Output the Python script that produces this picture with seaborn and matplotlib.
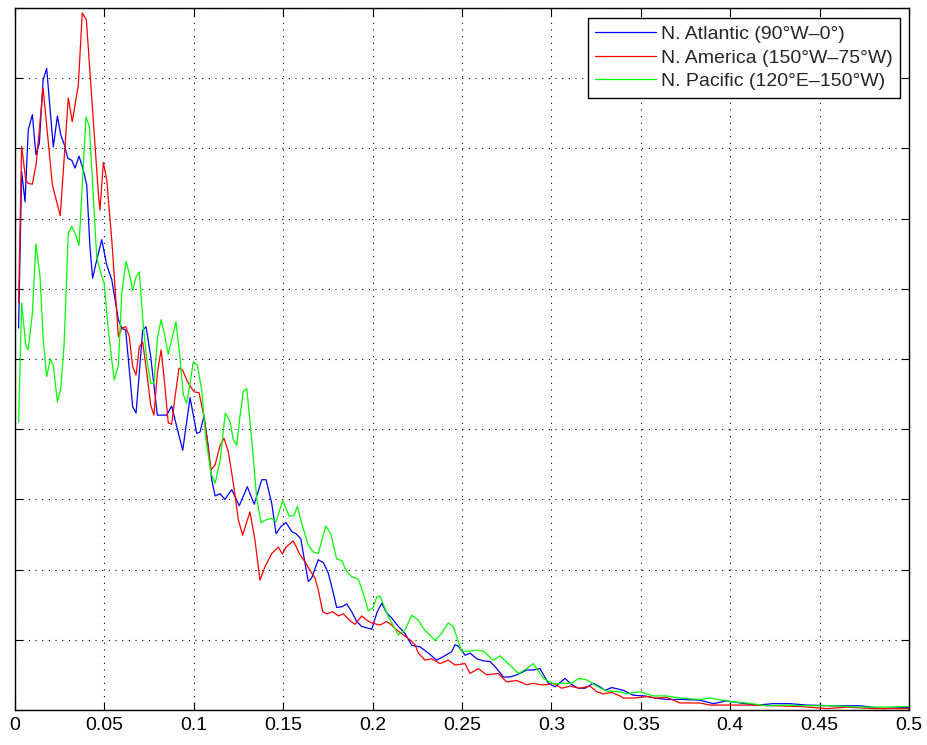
import numpy as np
import pandas as pd
import matplotlib
matplotlib.use('Agg')
import matplotlib.pyplot as plt
import seaborn as sns

# N. Atlantic (blue)
atl_f = [0.002, 0.0037, 0.0056, 0.0074, 0.0097, 0.0117, 0.0136, 0.0157, 0.0177, 0.0214,
         0.0237, 0.0256, 0.0276, 0.0295, 0.0317, 0.0336, 0.0358, 0.0382, 0.0401, 0.0419,
         0.0434, 0.0457, 0.0485, 0.0513, 0.0541, 0.0578, 0.0597, 0.0619, 0.0658, 0.0677,
         0.0714, 0.0733, 0.0759, 0.0796, 0.0848, 0.0876, 0.0904, 0.0938, 0.0979, 0.1016,
         0.1035, 0.1057, 0.1081, 0.11, 0.1119, 0.1147, 0.1174, 0.1212, 0.1254, 0.1299,
         0.1338, 0.138, 0.1404, 0.1436, 0.146, 0.1486, 0.1516, 0.1548, 0.1572, 0.1598,
         0.164, 0.1659, 0.1696, 0.1724, 0.1752, 0.1777, 0.1799, 0.1827, 0.1855, 0.1883,
         0.1911, 0.1939, 0.1967, 0.1995, 0.2026, 0.2051, 0.2079, 0.2107, 0.2144, 0.2181,
         0.2219, 0.2265, 0.2312, 0.2358, 0.2395, 0.2442, 0.2461, 0.2479, 0.2517, 0.2545,
         0.2582, 0.2619, 0.2657, 0.2694, 0.2731, 0.2768, 0.2806, 0.2862, 0.2899, 0.2936,
         0.2983, 0.302, 0.3076, 0.3114, 0.3151, 0.3188, 0.3234, 0.3272, 0.33, 0.3337,
         0.3402, 0.3458, 0.3523, 0.3579, 0.3645, 0.3738, 0.3831, 0.3905, 0.398, 0.4055,
         0.4148, 0.4241, 0.4334, 0.4428, 0.4577, 0.4726, 0.4856, 0.5]
atl_p = [5.44, 7.67, 7.24, 8.26, 8.48, 7.91, 8.07, 8.97, 9.14, 8.02,
         8.46, 8.19, 8.05, 7.86, 7.83, 7.72, 7.89, 7.69, 7.48, 6.6,
         6.15, 6.41, 6.7, 6.34, 6.13, 5.56, 5.44, 5.41, 4.32, 4.23,
         5.41, 5.46, 5.03, 4.2, 4.2, 4.33, 4.04, 3.7, 4.45, 3.94,
         3.96, 4.19, 3.75, 3.28, 3.05, 3.08, 3.0, 3.14, 2.91, 3.18,
         2.93, 3.28, 3.28, 2.94, 2.51, 2.61, 2.67, 2.54, 2.51, 2.44,
         1.83, 1.88, 2.14, 2.1, 1.95, 1.7, 1.46, 1.47, 1.51, 1.40,
         1.26, 1.19, 1.17, 1.15, 1.40, 1.52, 1.38, 1.31, 1.19, 1.09,
         0.92, 0.9, 0.81, 0.71, 0.76, 0.83, 0.93, 0.91, 0.78, 0.81,
         0.73, 0.7, 0.69, 0.59, 0.47, 0.47, 0.5, 0.57, 0.57, 0.59,
         0.38, 0.33, 0.45, 0.36, 0.31, 0.31, 0.38, 0.33, 0.28, 0.32,
         0.28, 0.21, 0.2, 0.17, 0.15, 0.15, 0.14, 0.09, 0.13, 0.1,
         0.07, 0.09, 0.09, 0.07, 0.06, 0.06, 0.02, 0.04]

# N. America (red)
ame_f = [0.002, 0.0037, 0.006, 0.0074, 0.0097, 0.0119, 0.0157, 0.0209, 0.0253, 0.0298,
         0.032, 0.0354, 0.0376, 0.0399, 0.0466, 0.0475, 0.0494, 0.0513, 0.0541, 0.0578,
         0.0597, 0.0619, 0.0639, 0.0658, 0.0677, 0.0695, 0.0714, 0.0737, 0.0759, 0.0777,
         0.0796, 0.0817, 0.0835, 0.0857, 0.0876, 0.0895, 0.0917, 0.0938, 0.096, 0.0983,
         0.1003, 0.1029, 0.1053, 0.1075, 0.1096, 0.1119, 0.1147, 0.1169, 0.1193, 0.1221,
         0.1249, 0.1273, 0.1296, 0.1314, 0.1342, 0.137, 0.1398, 0.1436, 0.1473, 0.1495,
         0.1516, 0.1556, 0.1594, 0.1622, 0.1654, 0.1678, 0.1696, 0.1721, 0.1743, 0.1777,
         0.1808, 0.1836, 0.1874, 0.1902, 0.1939, 0.1967, 0.1995, 0.2041, 0.2079, 0.2097,
         0.2135, 0.2172, 0.2209, 0.2237, 0.2256, 0.2293, 0.233, 0.2377, 0.2423, 0.2461,
         0.2517, 0.2545, 0.2591, 0.2638, 0.2703, 0.275, 0.2806, 0.2862, 0.2899, 0.2936,
         0.2974, 0.3011, 0.3058, 0.3104, 0.316, 0.3216, 0.3253, 0.329, 0.3337, 0.3384,
         0.3402, 0.3458, 0.3533, 0.3589, 0.3645, 0.3719, 0.3831, 0.3887, 0.3999, 0.4111,
         0.4241, 0.439, 0.454, 0.4652, 0.48, 0.5]
ame_p = [5.8, 8.03, 7.55, 7.5, 7.49, 7.79, 8.86, 7.48, 7.04, 8.72,
         8.38, 8.9, 9.93, 9.83, 7.36, 7.12, 7.8, 7.55, 6.7, 5.32,
         5.44, 5.46, 5.32, 4.89, 4.77, 5.17, 5.24, 4.8, 4.34, 4.2,
         4.8, 5.13, 4.7, 4.09, 4.07, 4.46, 4.87, 4.84, 4.7, 4.6,
         4.53, 4.52, 4.23, 3.85, 3.42, 3.49, 3.77, 3.87, 3.68, 3.23,
         2.71, 2.49, 2.68, 2.82, 2.42, 1.85, 2.04, 2.23, 2.32, 2.22,
         2.32, 2.41, 2.21, 2.11, 1.97, 1.88, 1.71, 1.40, 1.37, 1.40,
         1.34, 1.37, 1.27, 1.22, 1.34, 1.28, 1.24, 1.21, 1.26, 1.23,
         1.14, 1.07, 1.0, 0.93, 0.81, 0.71, 0.73, 0.66, 0.71, 0.64,
         0.66, 0.52, 0.59, 0.5, 0.52, 0.4, 0.42, 0.36, 0.38, 0.36,
         0.36, 0.38, 0.31, 0.34, 0.31, 0.34, 0.26, 0.23, 0.25, 0.2,
         0.17, 0.17, 0.19, 0.17, 0.18, 0.1, 0.1, 0.07, 0.07, 0.07,
         0.06, 0.05, 0.02, 0.04, 0.02, 0.02]

# N. Pacific (green)
pac_f = [0.002, 0.0037, 0.006, 0.0074, 0.0097, 0.0117, 0.014, 0.0158, 0.0177, 0.0198,
         0.0214, 0.0237, 0.0256, 0.0274, 0.0298, 0.0317, 0.0336, 0.0358, 0.0397, 0.0416,
         0.0457, 0.0475, 0.0498, 0.0522, 0.0541, 0.0555, 0.0578, 0.0597, 0.0621, 0.0639,
         0.0658, 0.0677, 0.0695, 0.0718, 0.0737, 0.0759, 0.0777, 0.0796, 0.0817, 0.0835,
         0.0857, 0.0876, 0.09, 0.0923, 0.0941, 0.096, 0.0979, 0.0997, 0.102, 0.1044,
         0.1068, 0.1096, 0.1119, 0.1147, 0.1176, 0.1202, 0.1221, 0.124, 0.1258, 0.1277,
         0.1296, 0.1324, 0.1352, 0.1376, 0.1404, 0.1436, 0.146, 0.1497, 0.1534, 0.156,
         0.1579, 0.1603, 0.164, 0.1668, 0.1696, 0.1738, 0.1766, 0.1799, 0.1827, 0.1855,
         0.1883, 0.192, 0.1948, 0.1976, 0.2004, 0.2023, 0.2041, 0.2088, 0.2144, 0.2181,
         0.2219, 0.2256, 0.2284, 0.2349, 0.2386, 0.2423, 0.2451, 0.2498, 0.2582, 0.2619,
         0.2675, 0.2713, 0.2768, 0.2815, 0.2862, 0.2899, 0.2955, 0.3011, 0.3067, 0.3114,
         0.3151, 0.3197, 0.3253, 0.3309, 0.3384, 0.3421, 0.3496, 0.357, 0.3645, 0.3719,
         0.3831, 0.3887, 0.3999, 0.4092, 0.4204, 0.4316, 0.4428, 0.4577, 0.4726, 0.4856, 0.5]
pac_p = [4.1, 5.8, 5.2, 5.13, 5.65, 6.64, 6.17, 5.27, 4.75, 5.0,
         4.91, 4.39, 4.58, 5.18, 6.79, 6.89, 6.79, 6.62, 8.45, 8.31,
         6.45, 6.27, 6.08, 5.41, 4.99, 4.7, 4.91, 5.93, 6.39, 6.22,
         5.97, 6.17, 6.24, 5.46, 4.99, 4.65, 4.65, 5.29, 5.56, 5.37,
         5.07, 5.27, 5.53, 5.01, 4.49, 4.37, 4.65, 4.96, 4.91, 4.56,
         3.85, 3.37, 3.23, 3.55, 4.23, 4.11, 3.85, 3.77, 4.18, 4.54,
         4.58, 3.85, 3.01, 2.67, 2.71, 2.73, 2.68, 2.98, 2.76, 2.77,
         2.9, 2.66, 2.35, 2.25, 2.23, 2.62, 2.51, 2.15, 2.13, 1.97,
         1.9, 1.86, 1.66, 1.41, 1.46, 1.61, 1.62, 1.33, 1.07, 1.14,
         1.35, 1.28, 1.16, 0.99, 1.09, 1.24, 1.19, 0.83, 0.85, 0.84,
         0.71, 0.77, 0.64, 0.52, 0.59, 0.66, 0.45, 0.37, 0.38, 0.38,
         0.45, 0.43, 0.34, 0.27, 0.26, 0.23, 0.26, 0.2, 0.2, 0.17,
         0.15, 0.17, 0.12, 0.1, 0.06, 0.07, 0.06, 0.06, 0.04, 0.04, 0.05]

labels = ['N. Atlantic (90°W–0°)', 'N. America (150°W–75°W)', 'N. Pacific (120°E–150°W)']
colors = ['#0000ff', '#ff0000', '#00ff00']
x_ticks = [0, 0.05, 0.1, 0.15, 0.2, 0.25, 0.3, 0.35, 0.4, 0.45, 0.5]
x_ticklabels = ['0', '0.05', '0.1', '0.15', '0.2', '0.25', '0.3', '0.35', '0.4', '0.45', '0.5']

sns.set_style('ticks')
plt.rcParams['font.family'] = ['Liberation Sans', 'DejaVu Sans']
plt.rcParams['xtick.direction'] = 'in'
plt.rcParams['ytick.direction'] = 'in'

fig = plt.figure(figsize=(9.27, 7.45), dpi=100)
ax = fig.add_axes([0.0162, 0.047, 0.9644, 0.9423])

for f, p, lab, c in zip([atl_f, ame_f, pac_f], [atl_p, ame_p, pac_p], labels, colors):
    df = pd.DataFrame({'f': f, 'p': p})
    sns.lineplot(data=df, x='f', y='p', color=c, label=lab, linewidth=0.9, ax=ax)

ax.set_xlim(0, 0.5)
ax.set_ylim(0, 10)
ax.set_xticks(x_ticks)
ax.set_xticklabels(x_ticklabels, fontsize=14)
ax.set_yticks(range(0, 11))
ax.set_yticklabels([])
ax.set_xlabel('')
ax.set_ylabel('')
ax.tick_params(top=True, right=True, length=6, width=0.8, colors='black', pad=5)
for s in ax.spines.values():
    s.set_visible(True)
    s.set_color('black')
    s.set_linewidth(1.0)
ax.grid(True, color='black', linestyle=(0, (1, 5)), linewidth=0.8)

leg = ax.legend(loc='upper right', bbox_to_anchor=(0.99, 0.986), fontsize=14,
                frameon=True, fancybox=False, framealpha=1, edgecolor='black',
                handlelength=3.1, handletextpad=0.25, labelspacing=0.3, borderpad=0.4,
                borderaxespad=0)
leg.get_frame().set_linewidth(1.0)

fig.savefig('out.png', dpi=100)
